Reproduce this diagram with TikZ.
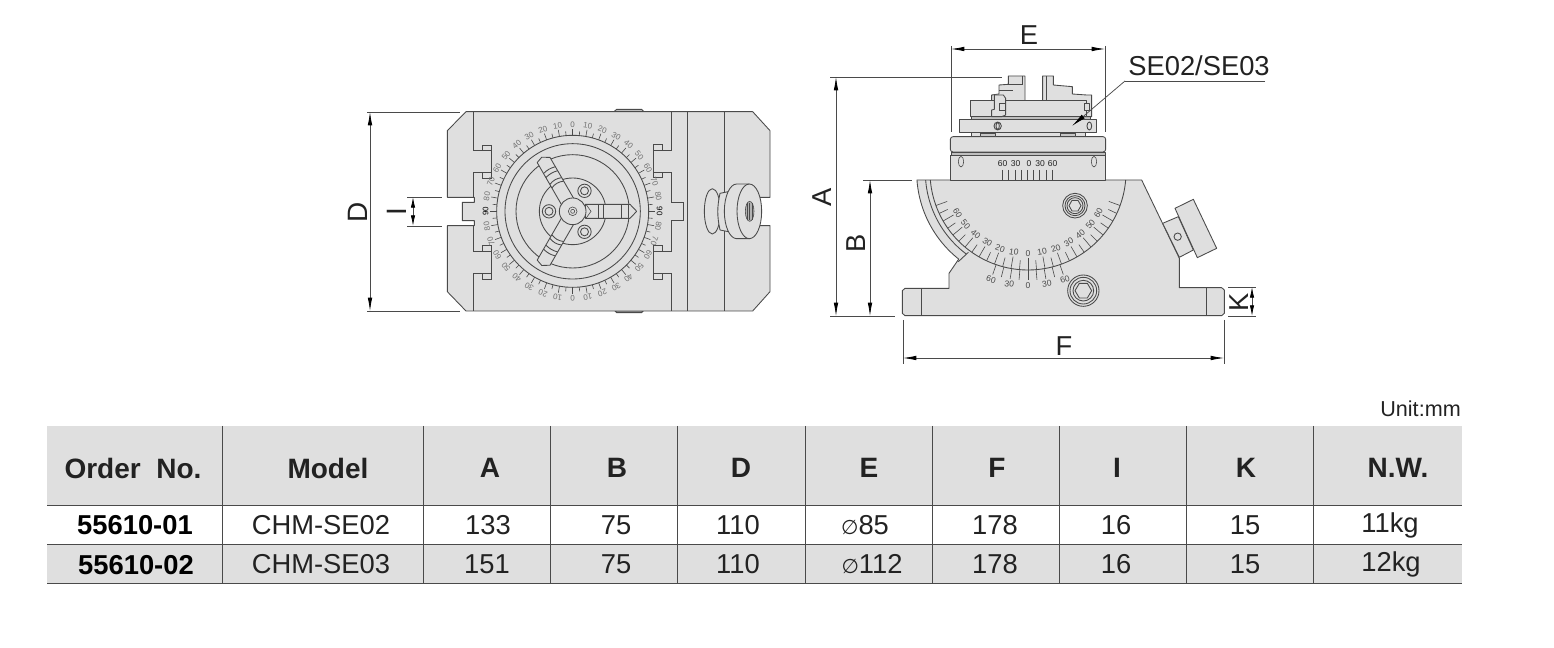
\documentclass[tikz,border=0pt]{standalone}
\usepackage{fontspec}
\setmainfont{Liberation Sans}
\newfontfamily\symfont{DejaVu Sans}
\usetikzlibrary{arrows.meta}
\definecolor{greyfill}{HTML}{DFDFDF}
\definecolor{ink}{HTML}{4A4A4A}
\definecolor{txt}{HTML}{222222}
\definecolor{sclgrey}{HTML}{707070}
\tikzset{
  part/.style={draw=ink,line width=0.65pt,fill=greyfill,line join=round},
  edge/.style={draw=ink,line width=0.65pt},
  fineedge/.style={draw=ink,line width=0.45pt},
  dimline/.style={draw=ink,line width=0.55pt},
  dimarrow/.style={dimline,{Latex[length=10pt,width=3.4pt,black]}-{Latex[length=10pt,width=3.4pt,black]}},
  lab/.style={inner sep=0pt,text=txt,font=\fontsize{20.5}{22}\selectfont},
  sclab/.style={inner sep=0pt,text=sclgrey,font=\fontsize{6}{6}\selectfont},
  sclabk/.style={inner sep=0pt,text=black,font=\fontsize{6}{6}\selectfont},
  sclabs/.style={inner sep=0pt,text=ink,font=\fontsize{6.4}{7}\selectfont},
  head/.style={inner sep=0pt,text=txt,font=\fontsize{21}{23}\bfseries\selectfont},
  cell/.style={inner sep=0pt,text=txt,font=\fontsize{20.5}{22}\selectfont},
  cellb/.style={inner sep=0pt,text=black,font=\fontsize{20.5}{22}\bfseries\selectfont},
  zoomcs/.style={x=0.25pt,y=-0.25pt}
}
\newcommand{\dia}{{\symfont\fontsize{15}{16}\selectfont ∅}}
\begin{document}
\begin{tikzpicture}[x=0.75pt,y=-0.75pt]
\fill[white] (0,0) rectangle (1554,648);
\useasboundingbox (0,0) rectangle (1554,648);

%% ---------- left view ----------
\begin{scope}[shift={(340,90)},zoomcs]
  \draw[part,fill=black!25] (822,65) -- (830,58) -- (905,58) -- (912,65) -- cycle;
  \draw[part,fill=black!25] (825,663) -- (830,668) -- (905,668) -- (910,663) -- cycle;
  \draw[part,fill=black!22] (1025,337) rectangle (1038,385);
  \draw[part] (378,65) -- (1238,65) -- (1290,122) -- (1290,322) -- (1240,322) -- (1240,407) -- (1290,407) -- (1290,605) -- (1238,663) -- (378,663) -- (322,605) -- (322,407) -- (403,407) -- (403,392) -- (367,392) -- (367,337) -- (403,337) -- (403,322) -- (322,322) -- (322,122) -- cycle;
  % T-slots left
  \draw[edge] (400,65) -- (400,180) -- (428,180) -- (428,165) -- (455,165) -- (455,265) -- (428,265) -- (428,248) -- (400,248) -- (400,322);
  \draw[edge] (428,180) -- (455,180) (428,248) -- (455,248);
  \draw[edge] (400,407) -- (400,483) -- (428,483) -- (428,467) -- (455,467) -- (455,567) -- (428,567) -- (428,550) -- (400,550) -- (400,663);
  \draw[edge] (428,483) -- (455,483) (428,550) -- (455,550);
  % T-slots right
  \draw[edge] (995,65) -- (995,180) -- (968,180) -- (968,163) -- (941,163) -- (941,263) -- (968,263) -- (968,247) -- (995,247) -- (995,337) -- (1029,337) -- (1029,392) -- (995,392) -- (995,483) -- (968,483) -- (968,467) -- (941,467) -- (941,567) -- (968,567) -- (968,550) -- (995,550) -- (995,663);
  \draw[edge] (968,180) -- (941,180) (968,247) -- (941,247) (968,483) -- (941,483) (968,550) -- (941,550);
  \draw[edge] (1042,65) -- (1042,663) (1153,65) -- (1153,663);
  % knob
  \draw[part] (1117,364) ellipse [x radius=24,y radius=68];
  \draw[part] (1140,310) -- (1165,305) -- (1165,425) -- (1140,420) to[bend left=12] cycle;
  \draw[part] (1190,282) -- (1228,282) arc[start angle=90,end angle=-90,x radius=37,y radius=-82] -- (1190,446) arc[start angle=-90,end angle=-270,x radius=37,y radius=-82] -- cycle;
  \draw[edge] (1228,282) arc[start angle=90,end angle=270,x radius=37,y radius=-82];
  \draw[fineedge,fill=black!30] (1229,364) ellipse [x radius=13,y radius=30];
  \foreach \u in {1222,1229,1236} \draw[fineedge] (\u,338) -- (\u,390);
  % rings
  \draw[edge] (698,364) circle[radius=228] (698,364) circle[radius=203] (698,364) circle[radius=170];
  \draw[edge] (698,364) circle[radius=100];
  % scale ticks
  \foreach \t in {0,5,...,355}{
    \pgfmathsetmacro{\len}{mod(\t,10)==0?20:13}
    \draw[fineedge] ({698+228*sin(\t)},{364-228*cos(\t)}) -- ({698+(228+\len)*sin(\t)},{364-(228+\len)*cos(\t)});
  }
  \foreach \t in {0,10,...,350}{
    \pgfmathtruncatemacro{\v}{\t<=90?\t:(\t<=180?180-\t:(\t<=270?\t-180:360-\t))}
    \pgfmathtruncatemacro{\isn}{\v==90?1:0}
    \ifnum\isn=1
      \node[sclabk,rotate=-\t] (ct\t) at ({698+261*sin(\t)},{364-261*cos(\t)}) {\v};
    \else
      \node[sclab,rotate=-\t] (ct\t) at ({698+261*sin(\t)},{364-261*cos(\t)}) {\v};
    \fi
  }
  % screws
  \foreach \a in {60,180,300}{
    \draw[edge] ({698+71*cos(\a)},{364-71*sin(\a)}) circle[radius=20] ({698+71*cos(\a)},{364-71*sin(\a)}) circle[radius=12];
  }
  % right arm
  \begin{scope}[shift={(698,364)}]
    \draw[part] (38,-21) -- (172,-21) -- (192,0) -- (172,21) -- (38,21) -- cycle;
    \draw[edge] (77,-21) -- (77,21) (92,-21) -- (92,21) (147,-21) -- (147,21) (167,-21) -- (167,21);
    \draw[fineedge] (40,-21) -- (55,0) -- (40,21);
  \end{scope}
  % blunt arms
  \foreach \r/\s in {120/1,240/-1}{
    \begin{scope}[shift={(698,364)},rotate=\r,yscale=\s]
      \draw[part] (30,-19) -- (180,-19) -- (187,1) -- (174,22) -- (30,22) -- cycle;
      \draw[edge] (92,-19) to[bend left=22] (92,22) (104,-19) to[bend left=22] (104,22);
      \draw[edge] (128,-19) to[bend left=14] (128,22) (142,-19) to[bend left=14] (142,22);
    \end{scope}
  }
  \draw[part] (698,364) circle[radius=40];
  \draw[fineedge] (698,364) circle[radius=13] (698,364) circle[radius=6];
\end{scope}

% D dimension
\coordinate (dt) at (370,112); \coordinate (db) at (370,311);
\draw[dimline] (367,112) -- (460,112) (367,311) -- (460,311);
\draw[dimarrow] (dt) -- (db);
\node[lab,rotate=90,font=\fontsize{21}{22}\selectfont] (lblD) at (358,212) {D};
% I dimension
\coordinate (it) at (413,197); \coordinate (ib) at (413,226);
\draw[dimline] (407,197) -- (442,197) (407,226) -- (442,226);
\draw[dimline,{Latex[length=8pt,width=3.2pt,black]}-{Latex[length=8pt,width=3.2pt,black]}] (it) -- (ib);
\node[lab,rotate=90,font=\fontsize{21}{22}\selectfont] (lblI) at (397,212) {I};

%% ---------- side view, lower part ----------
\begin{scope}[shift={(820,170)},zoomcs]
  \draw[part] plot[domain=-85.9:-38.5,samples=40] ({624+334*sin(\x)},{6+334*cos(\x)}) -- (387,310) -- (387,355) -- (255,355) -- (247,362) -- (247,430) -- (255,437) -- (1205,437) -- (1213,430) -- (1213,360) -- (1205,353) -- (1078,353) -- (1078,265) -- (965,30) -- cycle;
  \draw[edge] (415,275) -- (445,247);
  \draw[edge] plot[domain=-85.5:-37,samples=40] ({624+308*sin(\x)},{6+308*cos(\x)});
  \draw[edge] plot[domain=-85.3:85.3,samples=80] ({624+294*sin(\x)},{6+294*cos(\x)});
  \draw[edge] (305,355) -- (305,437) (1160,353) -- (1160,437);
  % angular scale
  \foreach \t in {-70,-65,...,70}{
    \pgfmathsetmacro{\rr}{mod(abs(\t),10)==0?258:266}
    \draw[fineedge] ({624+294*sin(\t)},{6+294*cos(\t)}) -- ({624+\rr*sin(\t)},{6+\rr*cos(\t)});
  }
  \foreach \t in {-60,-50,...,60}{
    \pgfmathtruncatemacro{\v}{abs(\t)}
    \node[sclabs,rotate=\t] (as\v\ifnum\t<0 l\else r\fi) at ({624+244*sin(\t)},{6+244*cos(\t)}) {\v};
  }
  % vernier
  \foreach \k in {-4,...,4}{
    \draw[fineedge] ({624+294*sin(\k*4.75)},{6+294*cos(\k*4.75)}) -- ({624+325*sin(\k*4.75)},{6+325*cos(\k*4.75)});
  }
  \foreach \k/\v/\n in {-4/60/a,-2/30/b,0/0/c,2/30/d,4/60/e}{
    \node[sclabs,rotate=\k*4.75] (vn\n) at ({624+341*sin(\k*4.75)},{6+341*cos(\k*4.75)}) {\v};
  }
  % bolts
  \draw[edge] (765,107) circle[radius=37] (765,107) circle[radius=30] (765,107) circle[radius=24];
  \draw[edge] (783,107) -- (774,91) -- (756,91) -- (747,107) -- (756,123) -- (774,123) -- cycle;
  \draw[edge,fill=greyfill] (790,362) circle[radius=47];
  \draw[edge] (790,362) circle[radius=40] (790,362) circle[radius=31];
  \draw[edge] (815,362) -- (802,340) -- (778,340) -- (765,362) -- (778,384) -- (802,384) -- cycle;
  % tilt knob
  \draw[part] (1028,160) -- (1075,140) -- (1120,240) -- (1078,262) -- cycle;
  \draw[part] (1065,115) -- (1120,88) -- (1190,235) -- (1132,263) -- cycle;
  \draw[edge] (1073,200) circle[radius=11];
\end{scope}

%% ---------- side view, upper part ----------
\begin{scope}[shift={(820,20)},zoomcs]
  % block
  \draw[part] (391,405) rectangle (855,480);
  \draw[fineedge] (423,425) ellipse[x radius=8,y radius=16] (822,425) ellipse[x radius=8,y radius=16];
  \foreach \u in {548,565,585,603,623,640,658,678,698} \draw[fineedge] (\u,450) -- (\u,480);
  \foreach \u/\v/\n in {548/60/a,587/30/b,627/0/c,660/30/d,698/60/e}
    \node[sclabs,text=txt] (bk\n) at (\u,432) {\v};
  % disc
  \draw[part,rounded corners=2pt] (391,350) rectangle (857,396);
  \draw[part,fill=black!25] (393,396) rectangle (855,405);
  % feet
  \draw[part] (455,338) rectangle (795,350);
  \draw[part,fill=black!22] (480,340) rectangle (527,350);
  \draw[part,fill=black!22] (722,340) rectangle (767,350);
  % chuck body and jaws
  \draw[part,fill=black!25] (455,288) rectangle (810,298);
  \draw[part] (615,242) -- (615,168) -- (565,168) -- (565,193) -- (537,195) -- (537,222) -- (515,225) -- (515,242) -- cycle;
  \draw[edge] (607,168) -- (607,193) -- (565,193) (537,212) -- (580,212);
  \draw[part] (668,242) -- (668,168) -- (700,168) -- (700,195) -- (757,200) -- (757,222) -- (800,225) -- (815,225) -- (815,290) -- (790,290) -- (790,242) -- cycle;
  \draw[edge] (678,168) -- (678,240);
  \draw[part] (452,240) -- (800,240) -- (800,290) -- (452,290) -- cycle;
  \draw[part] (793,250) rectangle (808,272);
  \draw[part] (515,290) -- (515,270) -- (523,268) -- (523,225) -- (550,225) -- (557,235) -- (557,285) -- (545,290) -- cycle;
  \draw[edge] (538,250) rectangle (557,272);
  % plate
  \draw[part] (417,298) rectangle (830,338);
  \draw[edge] (533,318) ellipse[x radius=11,y radius=12] (533,318) ellipse[x radius=5,y radius=10];
  \draw[edge] (808,318) ellipse[x radius=7,y radius=12];
\end{scope}

% E dimension
\coordinate (el) at (951,49); \coordinate (er) at (1105,49);
\draw[dimline] (951,46) -- (951,132) (1105,46) -- (1105,132);
\draw[dimarrow] (el) -- (er);
\node[lab] (lblE) at (1029,35) {E};
% leader
\node[lab] (lblSE) at (1199,66) {SE02/SE03};
\coordinate (ld1) at (1265,81); \coordinate (ld2) at (1125,81); \coordinate (ld3) at (1072,126);
\draw[dimline] (ld1) -- (ld2);
\draw[dimline,-{Latex[length=11pt,width=3.6pt,black]}] (ld2) -- (ld3);
% A, B
\draw[dimline] (830,77) -- (1002,77) (830,316) -- (895,316) (863,180) -- (912,180);
\coordinate (at) at (836,77); \coordinate (ab) at (836,316);
\coordinate (bt) at (870,180); \coordinate (bb) at (870,316);
\draw[dimarrow] (at) -- (ab);
\draw[dimarrow] (bt) -- (bb);
\node[lab,rotate=90] (lblA) at (822,197) {A};
\node[lab,rotate=90] (lblB) at (856,243) {B};
% K
\draw[dimline] (1228,287) -- (1256,287) (1228,316) -- (1256,316);
\coordinate (kt) at (1252,287); \coordinate (kb) at (1252,316);
\draw[dimline,{Latex[length=8pt,width=3.2pt,black]}-{Latex[length=8pt,width=3.2pt,black]}] (kt) -- (kb);
\node[lab,rotate=90] (lblK) at (1239,302) {K};
% F
\draw[dimline] (903,320) -- (903,364) (1224,320) -- (1224,364);
\coordinate (fl) at (903,358); \coordinate (fr) at (1224,358);
\draw[dimarrow] (fl) -- (fr);
\node[lab] (lblF) at (1064,346) {F};

%% ---------- table ----------
\node[inner sep=0pt,anchor=east,text=txt,font=\fontsize{16.2}{18}\selectfont] (unit) at (1461,409) {Unit:mm};
\fill[greyfill] (47,426) rectangle (1462,505);
\fill[greyfill] (47,544) rectangle (1462,583);
\foreach \yy in {505,544,583} \draw[edge] (47,\yy) -- (1462,\yy);
\foreach \xx in {222,423,550,677,805,932,1059,1186,1313} \draw[edge] (\xx,426) -- (\xx,583);
\foreach \xx/\tt/\n in {133/{Order\hspace{0.28em} No.}/a,328/Model/b,490/A/c,617/B/d,741/D/e,869/E/f,997/F/g,1117/I/h,1246/K/i,1398/N.W./j}
  \node[head] (h\n) at (\xx,468) {\tt};
\node[cellb] (r1a) at (135,525) {55610-01};
\node[cellb] (r2a) at (136,565) {55610-02};
\foreach \xx/\tt/\n in {321/CHM-SE02/b,488/133/c,616/75/d,738/110/e,865/{\dia85}/f,995/178/g,1116/16/h,1245/15/i,1390/11kg/j}
  \node[cell] (r1\n) at (\xx,525) {\tt};
\foreach \xx/\tt/\n in {321/CHM-SE03/b,487/151/c,616/75/d,738/110/e,872/{\dia112}/f,995/178/g,1116/16/h,1245/15/i,1391/12kg/j}
  \node[cell] (r2\n) at (\xx,564) {\tt};
\end{tikzpicture}
\end{document}
